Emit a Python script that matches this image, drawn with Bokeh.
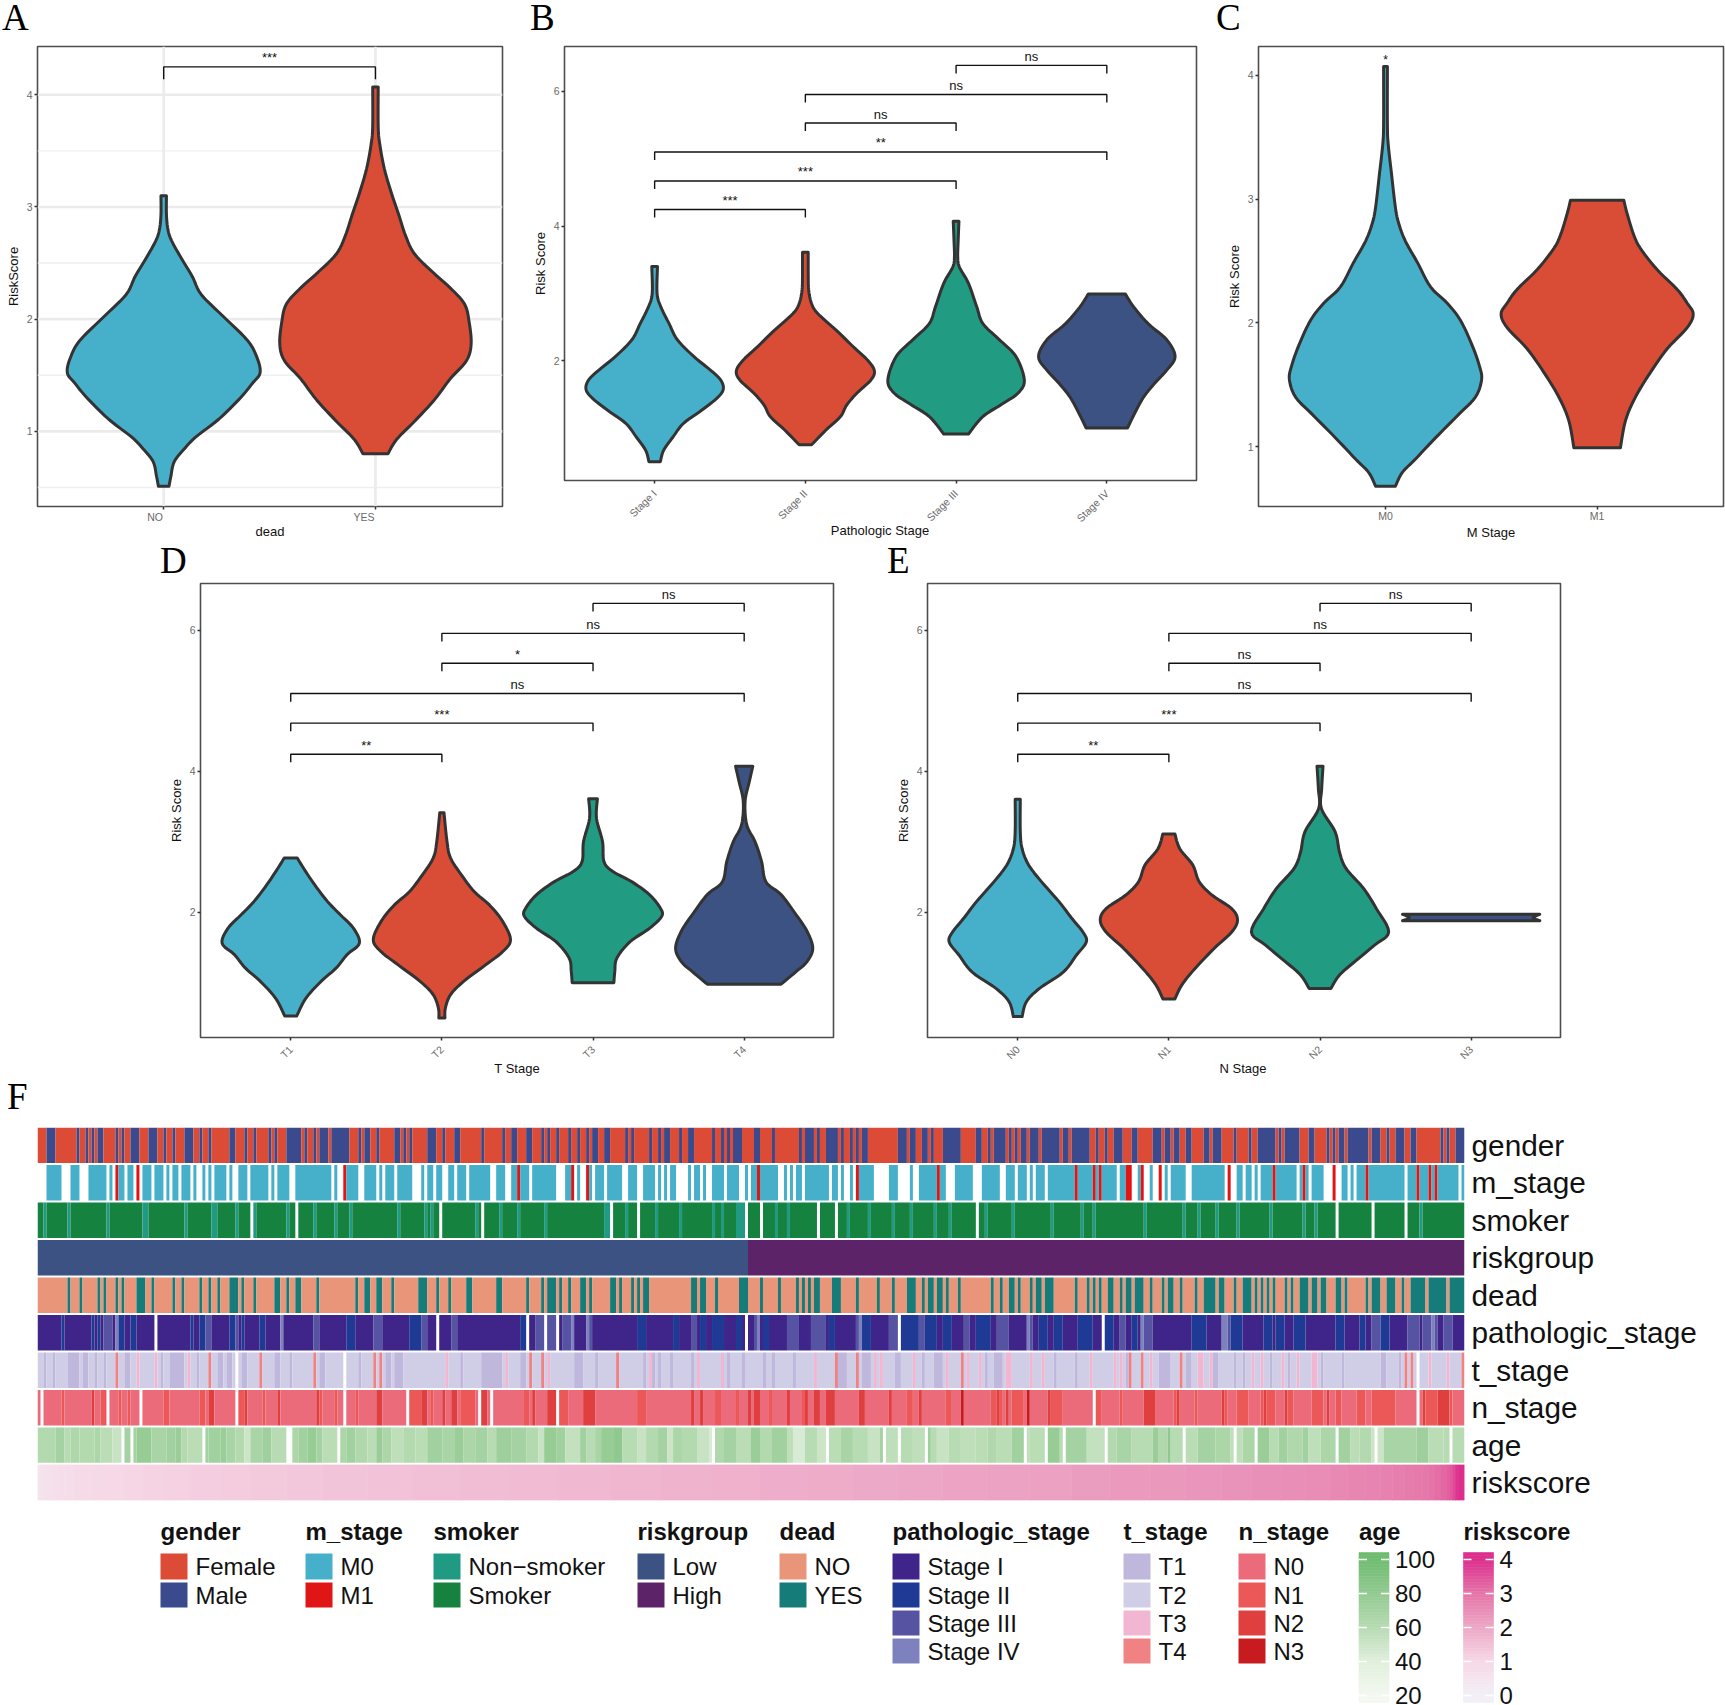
import math
import numpy as np
from bokeh.plotting import figure
from bokeh.layouts import column, row
from bokeh.models import Range1d, FixedTicker, Spacer, LinearAxis, Div
from bokeh.core.properties import value
from bokeh.embed import file_html
from bokeh.resources import INLINE

# ---------- violin shapes: (risk score, half width in category units) ----------
a_no_y = [3.10,2.93,2.80,2.70,2.54,2.38,2.22,2.03,1.81,1.65,1.52,1.43,1.30,1.11,.95,.85,.73,.60,.51]
a_no_w = [.013,.013,.02,.037,.084,.135,.177,.278,.396,.442,.455,.42,.363,.261,.152,.10,.05,.034,.025]
a_yes_y = [4.07,3.72,3.565,3.34,3.12,2.93,2.74,2.58,2.42,2.26,2.13,1.98,1.78,1.63,1.47,1.28,1.09,.93,.80]
a_yes_w = [.013,.013,.02,.042,.076,.11,.143,.185,.27,.363,.422,.442,.452,.43,.354,.278,.185,.101,.059]

b1_y = [3.40,3.0,2.80,2.55,2.31,2.06,1.86,1.71,1.57,1.44,1.27,1.07,.87,.67,.50]
b1_w = [.019,.016,.041,.096,.151,.261,.37,.439,.455,.412,.316,.192,.123,.06,.038]
b2_y = [3.61,3.30,3.05,2.85,2.70,2.45,2.21,2.01,1.85,1.71,1.52,1.34,1.17,.97,.75]
b2_w = [.019,.019,.022,.041,.082,.206,.316,.412,.458,.434,.343,.274,.233,.137,.041]
b3_y = [4.07,3.79,3.54,3.39,3.15,2.80,2.55,2.31,2.06,1.71,1.52,1.37,1.17,.91]
b3_w = [.019,.014,.011,.022,.082,.137,.178,.288,.398,.453,.412,.316,.178,.082]
b4_y = [2.99,2.80,2.55,2.31,2.06,1.86,1.66,1.42,1.0]
b4_w = [.123,.178,.274,.398,.453,.398,.316,.233,.137]

c1_y = [4.07,3.60,3.44,3.21,2.93,2.80,2.66,2.49,2.29,2.16,2.02,1.82,1.65,1.54,1.40,1.26,1.07,.90,.79,.68]
c1_w = [.009,.009,.013,.028,.047,.063,.094,.15,.213,.291,.354,.409,.444,.454,.425,.346,.236,.142,.079,.047]
c2_y = [2.99,2.88,2.71,2.60,2.43,2.27,2.16,2.07,1.96,1.79,1.60,1.40,1.21,.99]
c2_w = [.126,.142,.173,.205,.283,.378,.425,.454,.425,.331,.252,.181,.134,.11]

d1_y = [2.77,2.62,2.39,2.15,1.96,1.77,1.56,1.40,1.21,1.02,.78,.53]
d1_w = [.043,.086,.158,.244,.33,.416,.454,.373,.301,.201,.1,.04]
d2_y = [3.41,3.0,2.77,2.53,2.29,2.10,1.87,1.61,1.44,1.25,1.02,.83,.64,.50]
d2_w = [.014,.034,.057,.129,.215,.316,.402,.454,.402,.287,.144,.057,.023,.02]
d3_y = [3.61,3.33,3.0,2.72,2.58,2.43,2.25,2.06,1.94,1.77,1.58,1.35,1.16,1.0]
d3_w = [.029,.023,.063,.072,.129,.258,.373,.445,.454,.373,.244,.158,.144,.138]
d4_y = [4.07,3.85,3.57,3.24,3.0,2.72,2.43,2.25,1.96,1.73,1.49,1.30,1.16,.98]
d4_w = [.057,.034,.006,.017,.072,.115,.144,.244,.345,.416,.454,.416,.345,.244]

e1_y = [3.60,3.14,2.90,2.67,2.43,2.15,1.91,1.72,1.58,1.39,1.15,.92,.73,.52]
e1_w = [.017,.017,.029,.072,.158,.273,.359,.431,.454,.388,.301,.144,.057,.029]
e2_y = [3.11,2.90,2.67,2.43,2.24,2.05,1.89,1.72,1.49,1.20,.97,.77]
e2_w = [.04,.072,.158,.201,.287,.416,.454,.416,.301,.172,.086,.04]
e3_y = [4.07,3.75,3.47,3.14,2.85,2.62,2.34,2.05,1.72,1.53,1.30,1.11,.92]
e3_w = [.02,.011,.009,.1,.129,.172,.287,.373,.454,.359,.23,.129,.072]
e4_y = [1.97,1.925,1.88]
e4_w = [.454,.41,.454]

# ---------- significance brackets: (from, to, level, label) ----------
a_sig = [(1,2,4.248,"***")]
b_sig = [(3,4,6.386,"ns"),(2,4,5.955,"ns"),(2,3,5.53,"ns"),(1,4,5.10,"**"),(1,3,4.67,"***"),(1,2,4.245,"***")]
d_sig = [(3,4,6.378,"ns"),(2,4,5.953,"ns"),(2,3,5.53,"*"),(1,4,5.10,"ns"),(1,3,4.68,"***"),(1,2,4.24,"**")]
e_sig = [(3,4,6.378,"ns"),(2,4,5.953,"ns"),(2,3,5.53,"ns"),(1,4,5.10,"ns"),(1,3,4.68,"***"),(1,2,4.24,"**")]

# ---------- heatmap annotation tracks (476 patients, intervals [start, end) ) ----------
n_patients = 476
gender_male = [(3,6),(13,14),(16,17),(18,19),(20,22),(26,27),(28,29),(31,34),(37,40),(42,43),(45,46),(49,52),(54,55),(57,58),(64,66),(69,70),(72,73),(77,78),(79,80),(83,88),(89,90),(92,93),(94,97),(98,104),(107,108),(109,111),(113,114),(119,121),(122,123),(124,125),(130,133),(135,136),(139,141),(148,149),(155,156),(158,160),
(163,165),(168,169),(170,171),(173,174),(177,178),(180,181),(183,184),(185,187),(189,191),(196,197),(198,199),(204,205),(207,208),(209,211),(214,215),(217,218),(218,219),(225,226),(228,229),(230,231),(232,235),(239,240),(240,241),(245,246),(254,255),(256,259),(260,261),(263,267),(268,269),(271,272),(273,274),(275,277),(287,290),(291,293),(295,297),(298,299),(302,308),(313,315),(317,318),(319,321),
(321,323),(324,325),(326,327),(328,330),(331,334),(335,338),(338,341),(342,344),(345,351),(353,354),(356,357),(359,360),(360,362),(365,367),(372,375),(376,378),(379,381),(383,385),(389,391),(392,395),(399,400),(404,405),(407,413),(414,415),(416,421),(424,425),(425,426),(430,431),(432,433),(434,436),(437,444),(445,448),(450,451),(453,456),(458,460),(468,469),(470,471),(473,476)]

m_na = [(0,3),(8,11),(14,17),(23,24),(25,26),(29,30),(32,33),(34,35),(38,39),(42,43),(44,45),(47,48),(51,52),(53,55),(56,57),(58,59),(63,64),(65,67),(70,71),(77,78),(79,80),(84,86),(98,99),(100,102),(107,109),(113,114),(115,116),(119,120),(125,128),(129,130),(132,133),(135,137),(139,140),(143,144),(151,153),(156,158),
(164,165),(173,176),(179,180),(181,183),(185,186),(189,190),(195,197),(200,202),(206,207),(208,209),(210,211),(213,217),(218,219),(221,222),(223,225),(229,230),(234,236),(237,238),(247,249),(250,251),(252,253),(255,256),(264,265),(267,268),(269,271),(272,273),(279,284),(287,291),(292,294),(303,304),(304,306),(312,315),
(321,323),(326,327),(330,331),(332,333),(336,337),(360,361),(365,367),(369,371),(372,374),(375,376),(377,378),(383,385),(396,397),(398,400),(402,403),(405,406),(407,408),(420,421),(424,425),(429,432),(433,435),(437,438),(439,440),(456,457),(474,475)]
m_m1 = [26,33,102,160,178,183,240,273,300,346,352,354,363,364,368,374,397,412,422,432,443,460,464,466]

smoker_na = [(71,72),(86,87),(134,135),(148,149),(191,192),(200,201),(236,237),(241,242),(260,261),(266,267),(313,314),(433,434),(445,446),(456,457)]
smoker_non = [2,10,23,35,36,49,58,59,66,72,83,92,99,104,120,129,131,146,154,160,169,189,190,196,206,214,225,228,233,234,235,246,250,270,277,285,291,299,304,316,325,338,348,352,369,382,387,393,400,411,422,426,461]

low_count = 237

dead_yes = [(10,11),(14,15),(20,21),(22,23),(26,27),(28,29),(33,36),(38,39),(45,46),(48,49),(54,55),(57,58),(60,61),(64,67),(68,69),(72,73),(79,81),(83,84),(86,88),(93,94),(106,107),(109,111),(113,115),(118,119),(127,130),(133,134),(137,138),(143,145),(153,155),
(163,164),(168,169),(170,173),(174,175),(177,178),(181,183),(184,185),(191,193),(194,195),(198,199),(200,201),(202,204),(218,220),(221,223),(226,227),(234,237),(241,242),(247,248),(253,254),(255,256),(257,258),(259,261),(265,268),(273,274),(280,281),(285,286),(290,293),(295,296),(297,299),(300,302),(303,304),(307,308),(318,319),
(321,322),(324,325),(325,326),(327,328),(331,332),(333,335),(336,339),(346,347),(350,351),(352,353),(354,355),(357,359),(361,362),(363,365),(366,369),(371,372),(375,376),(377,378),(378,379),(381,382),(386,387),(389,393),(394,396),(399,400),(402,405),(406,407),(408,409),(410,411),(412,413),(416,417),(418,419),(421,423),(423,424),(425,427),(428,430),(433,435),(436,437),(443,444),(445,448),(450,453),(455,456),(458,463),(464,470),(471,476)]

path_na = [(39,40),(133,134),(163,164),(169,170),(173,174),(236,237),(287,288),(355,356)]
path_ii = [(8,9),(18,19),(20,21),(27,29),(31,33),(51,52),(54,56),(64,66),(68,69),(74,76),(103,106),(124,128),(161,163),(200,203),(212,214),(221,223),(225,229),(233,235),(242,244),(264,266),(275,278),(288,294),(296,300),(302,305),(313,318),(334,337),(339,342),(347,352),(356,359),(365,367),(385,390),(398,402),(409,412),(413,416),(419,423),(433,436),(441,443),(448,451)]
path_iii = [(22,25),(56,58),(66,67),(92,94),(112,115),(128,130),(138,140),(166,169),(170,173),(175,178),(183,185),(218,220),(239,241),(250,254),(258,263),(273,275),(284,287),(294,296),(309,311),(320,324),(330,332),(361,363),(369,372),(395,398),(445,448),(457,461),(462,467),(469,472)]
path_iv = [(26,27),(81,82),(178,179),(183,184),(240,241),(274,275),(330,331),(368,369),(395,397),(465,466)]

t_na = [(66,67),(102,103),(460,461)]
t_t4 = [26,57,74,92,112,114,164,168,193,266,273,308,364,368,381,456,458,475]
t_t3 = [33,39,50,136,156,170,204,220,228,259,279,281,292,303,310,314,323,324,331,335,351,359,361,371,387,388,391,405,408,415,420,425,426,464,470]
t_t1 = [(2,3),(5,6),(10,14),(15,17),(19,20),(22,23),(29,31),(41,42),(44,49),(53,54),(60,62),(63,65),(68,70),(79,81),(84,85),(94,96),(107,108),(116,118),(119,122),(141,142),(148,155),(161,163),(179,182),(186,187),(202,203),(205,206),(207,208),(211,212),(218,219),(230,231),(235,236),(242,243),(245,246),(252,253),(267,270),(275,278),(286,288),(295,296),(299,302),(316,317),(319,322),(339,340),(346,347),(363,364),(374,378),(383,385),(392,394),(399,400),(402,403),(411,412),(417,418),(428,429),(435,436),(448,450),(454,455)]

n_na = [(1,2),(23,24),(34,35),(66,67),(102,103),(123,124),(147,148),(151,152),(173,174),(352,353),(460,461)]
n_n1 = [(8,9),(21,23),(27,28),(30,31),(42,44),(54,56),(67,70),(75,76),(93,95),(99,100),(106,107),(124,128),(131,132),(141,146),(162,164),(174,177),(200,203),(221,222),(226,228),(233,234),(244,245),(255,256),(265,266),(284,285),(290,292),(303,305),(318,322),(325,329),(338,342),(353,355),(361,362),(370,373),(379,381),(386,387),(395,397),(400,404),(408,413),(416,419),(425,429),(433,435),(440,443),(445,453),(462,472)]
n_n2 = [(18,19),(57,59),(69,70),(80,81),(93,94),(113,115),(128,130),(135,136),(138,140),(148,150),(165,166),(170,173),(182,186),(218,219),(221,222),(237,238),(239,241),(250,251),(256,257),(259,261),(263,266),(274,276),(284,285),(294,295),(320,321),(323,324),(337,338),(369,373),(380,381),(395,396),(409,410),(416,417),(430,431),(462,463),(467,471)]
n_n3 = [308,330]

age_na = [(28,29),(31,32),(55,56),(83,85),(100,101),(225,226),(263,264),(282,283),(287,288),(296,297),(329,330),(336,337),(342,343),(356,357),(382,383),(399,400),(406,407),(433,434),(446,447),(471,472)]
age_ends = [6,9,11,14,19,21,25,28,33,38,43,46,48,50,55,57,61,63,66,69,71,75,78,83,87,90,93,95,100,103,106,110,113,115,118,122,126,130,135,139,142,146,150,153,158,163,167,169,173,176,181,183,186,188,192,195,200,203,207,210,212,215,220,224,226,229,233,238,241,245,250,252,256,260,263,268,272,277,281,282,287,292,296,298,300,304,308,313,317,320,325,329,331,336,341,343,350,356,360,365,372,374,377,378,382,387,393,398,402,406,411,414,417,422,424,428,433,438,441,445,449,460,464,469,476]
age_vals = [62,70,60,65,62,66,58,52,70,78,68,72,76,62,58,70,72,76,68,62,50,68,74,60,66,72,78,70,58,66,72,64,58,76,66,56,62,58,72,68,76,66,70,60,74,70,62,52,78,72,54,72,60,68,78,82,60,52,62,70,50,66,62,52,44,64,70,58,76,62,72,56,44,60,50,58,68,60,52,70,56,60,56,74,60,52,60,56,58,64,58,72,56,58,78,60,70,54,62,68,60,76,64,82,60,58,70,66,56,66,76,60,72,64,72,56,66,72,58,62,50,68,74,58,60]

risk_levels = [.5,.55,.6,.65,.7,.75,.8,.85,.9,.95,1.0,1.05,1.1,1.15,1.2,1.25,1.3,1.35,1.4,1.45,1.5,1.55,1.6,1.65,1.7,1.75,1.8,1.85,1.9,1.95,2.0,2.05,2.1,2.15,2.2,2.25,2.3,2.35,2.4,2.45,2.5,2.55,2.6,2.65,2.7,2.75,2.8,2.85,2.9,2.95,3.0,3.1,3.2,3.3,3.4,3.6,3.9,4.05]
risk_counts = [1,1,2,1,2,2,3,3,4,4,6,6,8,8,10,10,12,12,15,15,16,16,17,17,17,17,16,16,15,15,15,15,14,14,13,13,12,12,10,10,8,8,6,6,5,4,4,3,3,2,2,2,2,1,1,1,1,1]

track_names = ["gender","m_stage","smoker","riskgroup","dead","pathologic_stage","t_stage","n_stage","age","riskscore"]

# ---------- legends ----------
legends = [
 ("gender",["Female","Male"],["#DB4B35","#3B4A8C"]),
 ("m_stage",["M0","M1"],["#46B0CB","#E01515"]),
 ("smoker",["Non\u2212smoker","Smoker"],["#209A82","#15823F"]),
 ("riskgroup",["Low","High"],["#3B5283","#5D2369"]),
 ("dead",["NO","YES"],["#E8957A","#167C7A"]),
 ("pathologic_stage",["Stage I","Stage II","Stage III","Stage IV"],["#3F2589","#1F3A94","#5653A2","#7D82BE"]),
 ("t_stage",["T1","T2","T3","T4"],["#BFB8DC","#D0CEE6","#F0B6D2","#F08284"]),
 ("n_stage",["N0","N1","N2","N3"],["#EC6B7B","#EC5757","#E03F3F","#C81B1F"]),
]
age_ticks = [100,80,60,40,20]
risk_ticks = [4,3,2,1,0]

BLUE, RED, GREEN, NAVY = "#46B0CA", "#D94C35", "#219B82", "#3B5283"
SANS = "Liberation Sans"
LEG = {n:dict(zip(l,c)) for n,l,c in legends}

def hex2rgb(h): return [int(h[i:i+2],16) for i in (1,3,5)]
def ramp(v, stops):
    vs = [s[0] for s in stops]
    cs = np.array([hex2rgb(s[1]) for s in stops],float)
    rgb = [np.interp(v, vs, cs[:,k]) for k in range(3)]
    return "#%02x%02x%02x" % tuple(int(round(c)) for c in rgb)
AGE_STOPS = [(20,"#F3F8F0"),(40,"#E0EFDC"),(60,"#B7DBB2"),(80,"#93CA92"),(100,"#6FBC71")]
RISK_STOPS = [(0,"#F2EFF6"),(1,"#F6D8E6"),(2,"#EDA7C6"),(3,"#E575A8"),(4,"#DC2E8D")]

def smooth(pts, k=6):
    p = [pts[0]]+list(pts)+[pts[-1]]
    out=[]
    for i in range(1,len(p)-2):
        for t in np.linspace(0,1,k,endpoint=False):
            a,b,c,d = [np.array(q,float) for q in p[i-1:i+3]]
            out.append(0.5*((2*b)+(c-a)*t+(2*a-5*b+4*c-d)*t*t+(3*b-a-3*c+d)*t**3))
    out.append(np.array(pts[-1],float))
    return out

def violin(p, c, ys, ws, color):
    pts = smooth(list(zip(ws,ys)))
    hw = [max(q[0],0.003) for q in pts]; yy=[q[1] for q in pts]
    x = [c+w for w in hw]+[c-w for w in reversed(hw)]
    y = yy+list(reversed(yy))
    p.patch(x,y,fill_color=color,line_color="#333333",line_width=3,line_join="round")

def brackets(p, sig, tip):
    for a,b,l,t in sig:
        p.line([a,a,b,b],[l-tip,l,l,l-tip],line_color="#111111",line_width=1.4)
        p.text([(a+b)/2],[l],text=[t],text_align="center",text_baseline="alphabetic",y_offset=-9,
               text_font=value(SANS),text_font_size="13px",text_color="#111111")

def panel(w,h,l,r,t,b,xr,yr,xt,xl,yt,ylabel,xlabel,rot=None,xs=3,ys=3,ls=2):
    p = figure(width=w,height=h,x_range=Range1d(*xr),y_range=Range1d(*yr),output_backend="svg",toolbar_location=None,
               min_border_left=l,min_border_right=r,min_border_top=t,min_border_bottom=b,background_fill_color="white")
    p.frame_align=False
    p.xgrid.visible=False; p.ygrid.visible=False
    p.outline_line_color="#4D4D4D"; p.outline_line_width=1.6
    for ax,ticks in ((p.xaxis[0],xt),(p.yaxis[0],yt)):
        ax.ticker=FixedTicker(ticks=ticks)
        ax.axis_line_color=None
        ax.major_tick_line_color="#333333"; ax.major_tick_line_width=1.5
        ax.major_tick_out=3; ax.major_tick_in=0
        ax.minor_tick_line_color=None
        ax.major_label_text_font=SANS; ax.major_label_text_font_size="10.5px"
        ax.major_label_text_color="#6A6A6A"
        ax.major_label_standoff=2
        ax.axis_label_text_font=SANS; ax.axis_label_text_font_size="13px"
        ax.axis_label_text_font_style="normal"; ax.axis_label_text_color="#111111"
    p.xaxis[0].major_label_overrides=dict(zip(xt,xl))
    p.xaxis[0].major_label_standoff=ls
    if xlabel: p.xaxis[0].axis_label=xlabel
    p.yaxis[0].axis_label=ylabel
    p.xaxis[0].axis_label_standoff=xs; p.yaxis[0].axis_label_standoff=ys
    if rot: p.xaxis[0].major_label_orientation=rot
    return p

# text placed directly on the page
page_divs=[]
def page_text(t,left,top,w,h,family,size,color="#111111",align="left"):
    page_divs.append(Div(text=t,width=w,height=h,margin=0,styles={"position":"absolute","left":f"{left}px","top":f"{top}px",
        "font-family":family,"font-size":f"{size}px","line-height":f"{h}px","color":color,"text-align":align,"z-index":"5","white-space":"nowrap","overflow":"visible"}))
SERIF="Liberation Serif"
for t,x,y in (("A",2,-1),("B",530,-1),("C",1216,-1),("D",160,542),("E",887,542),("F",7,1078)):
    page_text(t,x,y,40,37,SERIF,37,"black")
page_text("NO",125,511,60,12,SANS,10.5,"#6A6A6A","center")
page_text("YES",334,511,60,12,SANS,10.5,"#6A6A6A","center")
page_text("Pathologic Stage",780,523,200,16,SANS,13,"#111111","center")
page_text("T Stage",417,1061,200,16,SANS,13,"#111111","center")
page_text("N Stage",1143,1061,200,16,SANS,13,"#111111","center")

# ---- A
xr=(.404,2.6); yr=(.33,4.43)
A = panel(520,542,37,18,46,36,xr,yr,[1,2],["",""],[1,2,3,4],"RiskScore","dead",xs=14)
A.segment([.404]*4,[1,2,3,4],[2.6]*4,[1,2,3,4],line_color="#EBEBEB",line_width=2.6,level="underlay")
A.segment([.404]*4,[.5,1.5,2.5,3.5],[2.6]*4,[.5,1.5,2.5,3.5],line_color="#EFEFEF",line_width=1.4,level="underlay")
A.segment([1,2],[.33,.33],[1,2],[4.43,4.43],line_color="#EBEBEB",line_width=2.6,level="underlay")
violin(A,1,a_no_y,a_no_w,BLUE); violin(A,2,a_yes_y,a_yes_w,RED)
brackets(A,a_sig,.111)

# ---- B
xr=(.402,4.595); yr=(.22,6.667)
B = panel(695,542,44,19,46,62,xr,yr,[1,2,3,4],["Stage I","Stage II","Stage III","Stage IV"],[2,4,6],"Risk Score",None,rot=math.pi/4,ls=8)
for c,(y,w,col) in enumerate(((b1_y,b1_w,BLUE),(b2_y,b2_w,RED),(b3_y,b3_w,GREEN),(b4_y,b4_w,NAVY)),1): violin(B,c,y,w,col)
brackets(B,b_sig,.12)

# ---- C
xr=(.40,2.597); yr=(.516,4.232)
C = panel(510,542,43,2,46,36,xr,yr,[1,2],["M0","M1"],[1,2,3,4],"Risk Score","M Stage",xs=0,ls=0)
violin(C,1,c1_y,c1_w,BLUE); violin(C,2,c2_y,c2_w,RED)
C.text([1],[4.07],text=["*"],text_align="center",text_baseline="alphabetic",y_offset=-7,text_font=value(SANS),text_font_size="12px",text_color="#111111")

# ---- D
xr=(.403,4.591); yr=(.224,6.66)
D = panel(730,534,50,47,41,39,xr,yr,[1,2,3,4],["T1","T2","T3","T4"],[2,4,6],"Risk Score",None,rot=math.pi/4,ls=7)
for c,(y,w,col) in enumerate(((d1_y,d1_w,BLUE),(d2_y,d2_w,RED),(d3_y,d3_w,GREEN),(d4_y,d4_w,NAVY)),1): violin(D,c,y,w,col)
brackets(D,d_sig,.115)

# ---- E
xr=(.403,4.591)
E = panel(720,534,47,40,41,39,xr,yr,[1,2,3,4],["N0","N1","N2","N3"],[2,4,6],"Risk Score",None,rot=math.pi/4,ls=7)
for c,(y,w,col) in enumerate(((e1_y,e1_w,BLUE),(e2_y,e2_w,RED),(e3_y,e3_w,GREEN),(e4_y,e4_w,NAVY)),1): violin(E,c,y,w,col)
brackets(E,e_sig,.115)

# ---- F heat tracks
def paint(cats, intervals, c):
    for it in intervals:
        if isinstance(it,tuple):
            for i in range(it[0],min(it[1],n_patients)): cats[i]=c
        else: cats[it]=c

tracks={}
cc=["Female"]*n_patients; paint(cc,gender_male,"Male"); tracks["gender"]=[LEG["gender"][k] for k in cc]
cc=["M0"]*n_patients; paint(cc,m_na,None); paint(cc,m_m1,"M1"); tracks["m_stage"]=[LEG["m_stage"].get(k) for k in cc]
cc=["Smoker"]*n_patients; paint(cc,smoker_non,"Non\u2212smoker"); paint(cc,smoker_na,None); tracks["smoker"]=[LEG["smoker"].get(k) for k in cc]
cc=["Low"]*low_count+["High"]*(n_patients-low_count); tracks["riskgroup"]=[LEG["riskgroup"][k] for k in cc]
cc=["NO"]*n_patients; paint(cc,dead_yes,"YES"); tracks["dead"]=[LEG["dead"][k] for k in cc]
cc=["Stage I"]*n_patients; paint(cc,path_ii,"Stage II"); paint(cc,path_iii,"Stage III"); paint(cc,path_iv,"Stage IV"); paint(cc,path_na,None); tracks["pathologic_stage"]=[LEG["pathologic_stage"].get(k) for k in cc]
cc=["T2"]*n_patients; paint(cc,t_t1,"T1"); paint(cc,t_t3,"T3"); paint(cc,t_t4,"T4"); paint(cc,t_na,None); tracks["t_stage"]=[LEG["t_stage"].get(k) for k in cc]
cc=["N0"]*n_patients; paint(cc,n_n1,"N1"); paint(cc,n_n2,"N2"); paint(cc,n_n3,"N3"); paint(cc,n_na,None); tracks["n_stage"]=[LEG["n_stage"].get(k) for k in cc]
ages=[]; prev=0
for e,v in zip(age_ends,age_vals):
    ages += [v]*(e-prev); prev=e
cc=[ramp(v,AGE_STOPS) for v in ages]; paint(cc,age_na,None); tracks["age"]=cc
risk=[]
for v,k in zip(risk_levels,risk_counts): risk += [v]*k
risk=(risk+[risk[-1]]*n_patients)[:n_patients]
tracks["riskscore"]=[ramp(v,RISK_STOPS) for v in risk]

F = figure(width=1725,height=429,x_range=Range1d(0,n_patients),y_range=Range1d(0.05,10),output_backend="svg",toolbar_location=None,
           x_axis_type=None,y_axis_type=None,
           min_border_left=37,min_border_right=261,min_border_top=51,min_border_bottom=5)
F.frame_align=False
F.grid.visible=False; F.outline_line_color=None
for r,name in enumerate(track_names):
    cols=tracks[name]; L=[];R=[];C2=[]
    i=0
    while i<n_patients:
        j=i
        while j<n_patients and cols[j]==cols[i]: j+=1
        if cols[i] is not None:
            L.append(i);R.append(j);C2.append(cols[i])
        i=j
    seamless = name=="riskscore"
    F.quad(left=L,right=R,top=[10-r]*len(L),bottom=[10-r-.946]*len(L),fill_color=C2,
           line_color=C2 if seamless else None,line_width=0.6)
rax = LinearAxis(ticker=FixedTicker(ticks=[10-r-.473 for r in range(10)]),
                 major_label_overrides={10-r-.473:n for r,n in enumerate(track_names)})
rax.axis_line_color=None; rax.major_tick_line_color=None; rax.minor_tick_line_color=None
rax.major_label_text_font=SANS; rax.major_label_text_font_size="29.8px"; rax.major_label_text_color="#111111"
rax.major_label_standoff=1
F.add_layout(rax,"right")

# ---- legend strip (axes in page pixels)
G = figure(width=1725,height=200,x_range=Range1d(0,1725),y_range=Range1d(1705,1505),output_backend="svg",toolbar_location=None,
           x_axis_type=None,y_axis_type=None,min_border=0)
G.frame_align=False
G.grid.visible=False; G.outline_line_color=None
leg_x=[160,305,433,637,779,892,1123,1238]
rows_y=[(1553,1579),(1582,1607),(1610,1635),(1638,1663)]
def gtext(x,y,t,bold=False,size="24px"):
    G.text([x],[y],text=[t],text_baseline="middle",text_font=value(SANS),text_font_size=size,
           text_font_style="bold" if bold else "normal",text_color="#111111")
for x,(title,labs,cols) in zip(leg_x,legends):
    gtext(x,1531,title,True)
    for (y0,y1),l,c in zip(rows_y,labs,cols):
        G.quad(left=[x],right=[x+27],top=[y0],bottom=[y1],fill_color=c,line_color=None)
        gtext(x+35,(y0+y1)/2,l)
def colorbar(x,title,ticks,stops):
    gtext(x,1531,title,True)
    hi,lo=ticks[0],ticks[-1]
    py=lambda v:1559+(hi-v)/(hi-lo)*(1695-1559)
    ys=np.arange(1552,1702,3)
    for y in ys:
        v=hi-(y+1.5-1559)/(1695-1559)*(hi-lo)
        col=ramp(v,stops)
        G.quad(left=[x],right=[x+30],top=[y],bottom=[y+3],fill_color=col,line_color=col,line_width=0.6)
    for t in ticks:
        G.segment([x,x+22],[py(t)]*2,[x+8,x+30],[py(t)]*2,line_color="white",line_width=1.5)
        gtext(x+36,py(t),str(t))
colorbar(1358.5,"age",age_ticks,AGE_STOPS)
colorbar(1463,"riskscore",risk_ticks,RISK_STOPS)

root = column(
    row(A,B,C,spacing=0),
    row(Spacer(width=150,height=534),D,E,spacing=0),
    F,G,*page_divs,spacing=0,styles={"position":"absolute","left":"0px","top":"0px"})
open("out.html","w").write(file_html(root,INLINE))
